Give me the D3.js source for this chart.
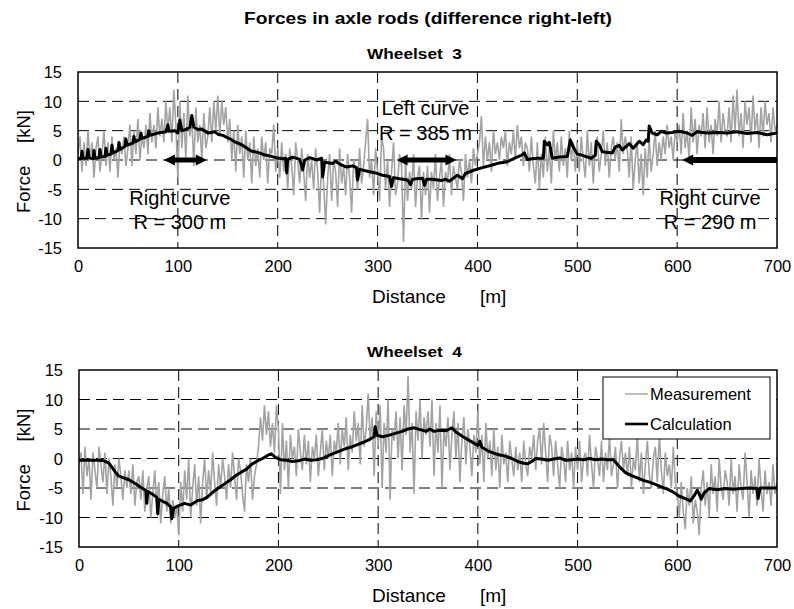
<!DOCTYPE html>
<html><head><meta charset="utf-8">
<script src="https://cdn.jsdelivr.net/npm/d3@7"></script>
<style>
body{margin:0;background:#fff}
svg{display:block}
text{font-family:"Liberation Sans",Arial,Helvetica,sans-serif;fill:#000}
</style>
</head><body>
<svg id="chart" width="794" height="609"></svg>
<script>
// ---------------- data ----------------
const xTicks = [0, 100, 200, 300, 400, 500, 600, 700];
const yTicks = [-15, -10, -5, 0, 5, 10, 15];
const sampleStep = 2; // measurement sample spacing [m]

// Wheelset 3 – measurement (every 2 m from 0 to 700 m)
const meas3 = [
 1,4,-2,3,-1,5,0,3,-3,2,4,-2,1,5,-1,3,-2,4,0,2,-3,3,1,4,-1,
 2,6,-1,5,1,7,0,4,2,6,1,8,3,6,2,9,4,7,3,10,5,9,3,12,6,
 -3,10,2,8,0,11,4,7,-1,9,3,6,0,8,2,4,9,3,10,5,11,4,10,6,9,
 3,7,0,5,-2,6,1,4,-3,5,0,3,-4,4,-1,2,-3,4,0,3,-4,2,1,6,-2,
 2,-3,3,-2,1,-5,2,-1,-6,3,0,-4,2,-2,-7,1,-3,0,-5,2,-2,-9,0,-4,-11,
 -3,1,-7,0,-2,-8,2,-4,-1,-6,1,-3,-9,0,-2,-5,2,-4,-1,3,7,-3,0,-6,2,
 -2,-7,4,2,-5,0,-8,-2,3,-6,-4,1,-1,-14,0,-7,-2,-5,1,-8,-3,-1,-10,-2,-6,
 -1,-9,-2,-5,1,-7,-3,0,-8,-2,-4,1,-6,-1,-3,-5,0,-2,-7,1,-3,0,-4,2,-1,
 1,3,7.5,-1,4,0,3,-2,5,1,3,0,4,2,5,-1,3,1,5,0,6,2,4,-1,3,
 2,-2,4,-1,-4,3,-5,1,-3,4,-2,2,-4,5,0,3,-2,4,-1,2,-3,5,0,3,-2,
 3,-2,4,0,-3,5,-1,3,-4,2,4,-2,1,5,-1,3,-3,2,4,0,3,-2,7,1,4,
 2,-3,4,-5,0,3,-4,1,-6,2,-3,4,-2,1,5,-1,3,0,4,1,6,2,4,0,5,
 3,6,1,8,2,5,0,9,3,7,1,6,4,8,2,9,3,6,1,7,4,10,3,8,5,
 4,9,3,11,5,12,4,8,2,10,6,9,3,11,5,8,2,9,4,10,6,8,3,9,5,
 6
];
// Wheelset 3 – calculation
const calc3Dist = [0,3,4,5,9,10,11,15,16,17,21,22,23,27,28,29,33,34,35,40,41,42,47,48,49,55,56,57,62,63,64,70,71,72,80,88,90,91,97,100,102,104,108,112,114,116,120,124,130,137,140,145,151,157,164,170,174,180,186,192,198,205,208,209,210,215,222,225,227,232,239,244,245,247,255,258,262,269,275,279,280,282,292,298,305,312,314,316,322,330,333,335,339,345,347,349,355,364,368,372,380,385,388,397,405,414,422,430,437,444,447,450,455,460,466,467,470,472,475,482,490,493,496,500,505,514,518,519,522,525,535,538,542,545,552,556,562,566,569,571,572,575,580,584,589,595,602,610,615,620,630,640,650,660,670,680,690,700];
const calc3Force = [0.3,0.2,1.5,0.3,0.3,1.8,0.4,0.2,1.6,0.3,0.4,1.8,0.5,0.6,2.0,0.8,1.0,2.5,1.2,1.6,3.0,1.8,2.3,3.6,2.5,2.9,4.0,3.1,3.5,4.6,3.7,4.0,5.0,4.2,4.6,4.8,6.0,4.9,5.0,4.6,6.8,5.0,5.2,5.6,7.6,5.6,5.2,5.3,4.6,4.8,4.4,4.2,3.7,3.1,2.6,1.9,1.5,1.3,0.9,0.7,0.4,0.2,0.3,-2.2,0.1,0.5,0.1,-1.7,0.0,0.4,0.0,0.3,-2.9,-0.4,-0.6,-0.2,-0.7,-1.2,-1.0,-1.3,-3.4,-1.6,-2.0,-2.2,-2.6,-2.8,-4.5,-3.0,-3.2,-3.4,-4.2,-3.3,-3.2,-3.1,-4.3,-3.3,-3.3,-3.5,-3.3,-3.6,-2.6,-3.2,-2.3,-1.7,-1.3,-0.9,-0.5,-0.3,0.3,0.8,1.2,0.1,0.2,0.3,0.3,3.2,2.6,3.0,0.3,0.5,0.6,3.4,2.2,1.0,0.8,0.3,0.8,3.2,2.6,1.4,1.2,2.2,2.5,1.7,2.8,2.0,3.2,2.6,3.4,3.2,5.8,4.6,4.3,4.9,4.6,4.7,4.9,4.6,4.2,4.8,4.6,4.7,4.6,4.8,4.5,4.7,4.3,4.6];

// Wheelset 4 – measurement (every 2 m from 0 to 700 m)
const meas4 = [
 -1,1,-6,2,-3,0,-7,1,-2,-5,2,-1,-4,1,-6,0,-3,-8,-1,-5,0,-3,-7,-2,-5,
 -2,-6,-1,-8,-4,-3,-7,-2,-9,-5,-3,-10,-6,-2,-8,-4,-11,-6,-3,-9,-5,-11,-7,-10,-8,
 -13,-4,-9,-2,-7,0,-10,-5,-1,-8,-3,-11,-4,0,-7,-2,-6,1,-4,-8,-1,-5,0,-3,-7,
 -1,-5,1,-3,-7,0,-2,-6,-9,-1,-4,0,-7,-3,-1,2,7,3,9,4,8,2,6,1,9,
 5,-6,6,-2,3,-5,4,0,2,-3,5,1,-2,4,-1,3,-4,2,0,4,-3,1,5,-2,3,
 0,4,-3,3,1,6,-1,5,2,7,-2,4,1,8,3,6,-1,9,2,5,11,3,7,-3,8,
 2,9,-5,6,1,10,-7,5,3,8,0,7,-2,9,4,14,1,6,-6,8,3,10,0,7,4,
 8,2,10,-3,6,1,9,-5,5,2,7,-2,4,8,0,6,-4,3,7,-1,5,2,-3,4,1,
 8,-1,4,-4,6,0,3,-3,5,-2,2,-5,4,-1,1,-4,3,0,-3,2,-2,1,-4,3,-1,
 -3,2,0,4,-2,3,5,-1,6,1,-4,4,2,-3,3,-1,-5,2,0,-4,3,-2,1,-5,2,
 -2,3,-4,0,1,-3,4,-1,-5,2,0,-3,3,-4,1,-2,4,-3,-1,2,-5,0,3,-2,1,
 -3,2,-5,0,-2,4,-4,1,-6,-1,3,-3,-5,0,2,-4,4,-2,-6,1,-3,-1,-5,2,-4,
 -6,-10,-4,-9,-12,-5,-8,-3,-11,-7,-9,-13,-5,-2,-8,-4,-10,-1,-6,-3,-9,0,-5,-7,-2,
 -4,-8,0,-6,-3,-9,-1,-5,-7,1,-4,-10,-2,-6,-3,-8,0,-5,-9,-2,-6,-4,-8,-1,-6,
 -4
];
// Wheelset 4 – calculation
const calc4Dist = [0,10,20,25,30,36,40,50,58,63,67,68,69,75,78,79,80,88,92,93,95,100,106,112,119,124,129,135,140,146,152,158,163,168,173,178,184,190,193,197,202,208,214,220,226,232,238,244,250,256,262,268,274,280,286,292,296,297,299,305,312,318,324,330,336,342,348,352,356,362,368,374,378,384,390,396,400,402,404,410,416,422,428,434,440,446,450,454,458,464,470,476,482,488,494,500,506,512,518,524,530,536,542,548,554,560,566,572,578,584,590,596,602,608,613,617,620,622,624,627,632,640,648,656,664,672,680,681,683,690,700];
const calc4Force = [-0.3,-0.3,-0.3,-0.4,-0.8,-2.2,-3.0,-3.6,-4.4,-5.0,-5.4,-7.6,-5.6,-6.2,-6.6,-9.4,-6.9,-7.6,-8.2,-10.2,-8.4,-8.0,-7.6,-7.9,-7.1,-7.0,-6.5,-5.6,-5.0,-4.3,-3.6,-2.8,-2.3,-1.8,-1.0,-0.5,0.0,0.6,0.8,0.2,-0.2,-0.3,-0.5,-0.4,-0.1,-0.3,-0.2,0.0,0.5,0.9,1.3,1.7,2.0,2.4,2.8,3.3,3.7,5.4,3.9,3.7,4.0,4.3,4.6,5.0,5.2,4.9,4.6,5.0,4.6,4.8,4.7,5.2,4.5,3.8,3.2,2.6,2.2,2.9,1.9,1.3,0.9,0.6,0.4,0.0,-0.5,-0.8,-0.9,-0.5,0.0,-0.1,-0.3,-0.1,0.1,-0.3,-0.2,-0.1,-0.2,0.0,-0.2,-0.1,-0.2,-0.2,-1.4,-2.4,-2.9,-3.3,-3.7,-4.0,-4.4,-4.8,-5.2,-5.7,-6.4,-6.8,-7.2,-6.3,-5.4,-6.0,-6.9,-5.8,-5.1,-5.3,-5.1,-5.2,-5.1,-5.0,-5.1,-6.8,-5.0,-5.0,-5.0];

// curve annotations (wheelset 3)
const curveFrom = [86, 319, 605];
const curveTo   = [129, 379, 700];
const curveHeadAtEnd = [true, true, false];
const curveLabels = [["Right curve", "R = 300 m"], ["Left curve", "R = 385 m"], ["Right curve", "R = 290 m"]];
const curveLabelAt = [[102, -7.6], [348, 7.6], [633, -7.6]];

const legendLabels = ["Measurement", "Calculation"];

// ---------------- drawing ----------------
const svg = d3.select("#chart");
svg.append("rect").attr("width", 794).attr("height", 609).attr("fill", "#fff");

svg.append("text").attr("text-anchor", "middle")
  .attr("transform", "translate(428,23.5) scale(1.13,1)")
  .style("font-weight", "bold").style("font-size", "17px")
  .text("Forces in axle rods (difference right-left)");

const panels = [
  {id: 3, meas: meas3, cd: calc3Dist, cf: calc3Force, left: 78, right: 777, top: 72, bottom: 248, titleY: 58.5},
  {id: 4, meas: meas4, cd: calc4Dist, cf: calc4Force, left: 79, right: 777, top: 370, bottom: 547, titleY: 356.5}
];

panels.forEach(p => {
  const x = d3.scaleLinear().domain([0, 700]).range([p.left, p.right]);
  const y = d3.scaleLinear().domain([-15, 15]).range([p.bottom, p.top]);
  p.x = x; p.y = y;
  const g = svg.append("g");

  g.append("clipPath").attr("id", "clip" + p.id).append("rect")
    .attr("x", p.left).attr("y", p.top).attr("width", p.right - p.left).attr("height", p.bottom - p.top);

  // panel title
  g.append("text").attr("text-anchor", "middle")
    .attr("transform", `translate(414.5,${p.titleY}) scale(1.15,1)`)
    .style("font-weight", "bold").style("font-size", "15px")
    .text("Wheelset\u00A0\u00A0" + p.id);

  // grid
  g.selectAll(".vg").data(xTicks.slice(1, -1)).join("line")
    .attr("x1", d => x(d)).attr("x2", d => x(d)).attr("y1", p.top).attr("y2", p.bottom)
    .attr("stroke", "#000").attr("stroke-width", 1).attr("stroke-dasharray", "11,6");
  g.selectAll(".hg").data(yTicks.slice(1, -1)).join("line")
    .attr("x1", p.left).attr("x2", p.right).attr("y1", d => y(d)).attr("y2", d => y(d))
    .attr("stroke", "#000").attr("stroke-width", 1).attr("stroke-dasharray", "11,6");

  // measurement
  const mLine = d3.line().x((d, i) => x(i * sampleStep)).y(d => y(d));
  g.append("path").datum(p.meas).attr("d", mLine)
    .attr("fill", "none").attr("stroke", "#a3a3a3").attr("stroke-width", 1.6)
    .attr("stroke-linejoin", "miter").attr("stroke-miterlimit", 2)
    .attr("clip-path", `url(#clip${p.id})`);

  // calculation
  const cLine = d3.line().x(d => x(d[0])).y(d => y(d[1]));
  g.append("path").datum(d3.zip(p.cd, p.cf)).attr("d", cLine)
    .attr("fill", "none").attr("stroke", "#000").attr("stroke-width", 3)
    .attr("stroke-linejoin", "round").attr("clip-path", `url(#clip${p.id})`);

  // frame
  g.append("rect").attr("x", p.left).attr("y", p.top)
    .attr("width", p.right - p.left).attr("height", p.bottom - p.top)
    .attr("fill", "none").attr("stroke", "#000").attr("stroke-width", 1.5);

  // axes
  const xa = g.append("g").attr("transform", `translate(0,${p.bottom})`)
    .call(d3.axisBottom(x).tickValues(xTicks).tickSize(0).tickPadding(12.5).tickFormat(d3.format("d")));
  const ya = g.append("g").attr("transform", `translate(${p.left},0)`)
    .call(d3.axisLeft(y).tickValues(yTicks).tickSize(0).tickPadding(16).tickFormat(d => d < 0 ? "-" + Math.abs(d) : String(d)));
  [xa, ya].forEach(a => {
    a.select(".domain").remove();
    a.selectAll("text").style("font-size", "16.5px").style("font-family", '"Liberation Sans",Arial,sans-serif').attr("fill", "#000");
  });
  ya.selectAll("text").attr("dy", "0.36em");

  // axis titles
  const yMid = (p.top + p.bottom) / 2;
  g.append("text").attr("transform", `translate(29.5,${yMid + 53}) rotate(-90)`)
    .style("font-size", "18.5px").text("Force");
  g.append("text").attr("transform", `translate(29.5,${yMid - 17}) rotate(-90)`)
    .style("font-size", "18.5px").text("[kN]");
  g.append("text").attr("x", 372).attr("y", p.bottom + 55).style("font-size", "19px").text("Distance");
  g.append("text").attr("x", 480).attr("y", p.bottom + 55).style("font-size", "19px").text("[m]");
});

// curve arrows & labels on wheelset 3
{
  const p = panels[0], x = p.x, y = p.y;
  const g = svg.append("g");
  const hl = 11, hw = 5.5;
  curveFrom.forEach((f, i) => {
    const x0 = x(f), x1 = x(curveTo[i]), yy = y(0);
    const lx1 = curveHeadAtEnd[i] ? x1 - hl + 1 : x1;
    g.append("line").attr("x1", x0 + hl - 1).attr("x2", lx1).attr("y1", yy).attr("y2", yy)
      .attr("stroke", "#000").attr("stroke-width", i === 2 ? 6 : 5);
    g.append("path").attr("d", `M${x0},${yy}L${x0 + hl},${yy - hw}L${x0 + hl},${yy + hw}Z`).attr("fill", "#000");
    if (curveHeadAtEnd[i])
      g.append("path").attr("d", `M${x1},${yy}L${x1 - hl},${yy - hw}L${x1 - hl},${yy + hw}Z`).attr("fill", "#000");
    const [lx, ly] = curveLabelAt[i];
    const t = g.append("text").attr("text-anchor", "middle").style("font-size", "20px");
    t.append("tspan").attr("x", x(lx)).attr("y", y(ly)).text(curveLabels[i][0]);
    t.append("tspan").attr("x", x(lx)).attr("y", y(ly) + 24.5).text(curveLabels[i][1]);
  });
}

// legend on wheelset 4
{
  const g = svg.append("g");
  g.append("rect").attr("x", 603).attr("y", 377).attr("width", 167).attr("height", 62)
    .attr("fill", "#fff").attr("stroke", "#000").attr("stroke-width", 1);
  const styles = [{c: "#a3a3a3", w: 1.4}, {c: "#000", w: 2.6}];
  legendLabels.forEach((lab, i) => {
    const ly = 394 + i * 30;
    g.append("line").attr("x1", 625).attr("x2", 648).attr("y1", ly).attr("y2", ly)
      .attr("stroke", styles[i].c).attr("stroke-width", styles[i].w);
    g.append("text").attr("x", 650).attr("y", ly + 6).style("font-size", "16.5px").text(lab);
  });
}
</script>
</body></html>
